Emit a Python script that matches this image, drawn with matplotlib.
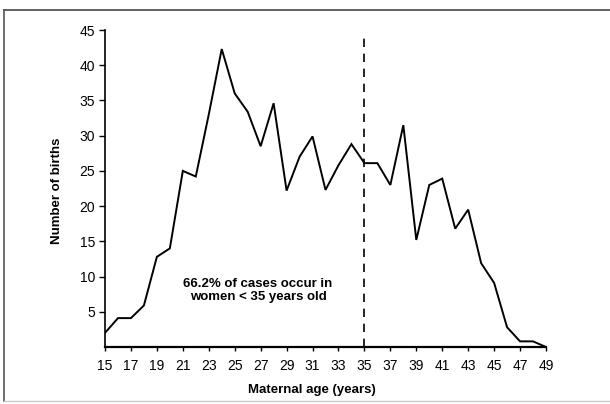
import matplotlib.pyplot as plt
from matplotlib.lines import Line2D

# maternal age vs number of births
ages = list(range(15, 50))
births = [2, 4.1, 4.1, 5.9, 12.8, 14, 25, 24.2, 33, 42.3,
          36, 33.4, 28.5, 34.6, 22.2, 27, 29.9, 22.3, 25.8, 28.8,
          26.1, 26.1, 23, 31.5, 15.2, 23, 23.9, 16.8, 19.5, 11.9,
          9.1, 2.8, 0.8, 0.8, 0]

xticks = list(range(15, 50, 2))
yticks = [5, 10, 15, 20, 25, 30, 35, 40, 45]
cutoff_age = 35
note = "66.2% of cases occur in\nwomen < 35 years old"

plt.rcParams['font.family'] = ['Liberation Sans', 'DejaVu Sans']

fig = plt.figure(figsize=(6.10, 4.04), dpi=100)
ax = fig.add_axes([105/610, 1 - 347/404, 441/610, 317/404])

ax.plot(ages, births, color='black', linewidth=1.4, solid_joinstyle='miter')
ax.axvline(cutoff_age, ymin=0, ymax=0.99, color='black', linewidth=1.2,
           linestyle=(0, (5, 4)))

ax.set_xlim(15, 49)
ax.set_ylim(0, 45)
ax.set_xticks(xticks)
ax.set_yticks(yticks)
ax.tick_params(axis='both', labelsize=10, width=1, color='black', direction='out')
ax.tick_params(axis='y', length=4, pad=3)
ax.tick_params(axis='x', length=3, pad=6)

for side in ['top', 'right']:
    ax.spines[side].set_visible(False)
ax.spines['left'].set_linewidth(1.2)
ax.spines['bottom'].set_linewidth(1.6)

ax.text(26.8, 8.0, note, ha='center', va='center', fontsize=9.5,
        fontweight='bold', linespacing=1.1)

fig.text(57/610, 1 - 191/404, 'Number of births', rotation=90, ha='center',
         va='center', fontsize=9.5, fontweight='bold')
fig.text(312/610, 1 - 390/404, 'Maternal age (years)', ha='center',
         va='center', fontsize=9.5, fontweight='bold')

# scanned frame: top and left edges, faint bottom edge
fig.lines.append(Line2D([4/610, 1], [1 - 10/404, 1 - 10/404],
                        transform=fig.transFigure, color='#555555', linewidth=1.3))
fig.lines.append(Line2D([4/610, 4/610], [1 - 10/404, 1 - 401/404],
                        transform=fig.transFigure, color='#555555', linewidth=1.2))
fig.lines.append(Line2D([4/610, 1], [1 - 401/404, 1 - 401/404],
                        transform=fig.transFigure, color='#cccccc', linewidth=1.0))

fig.savefig('out.png', dpi=100)
